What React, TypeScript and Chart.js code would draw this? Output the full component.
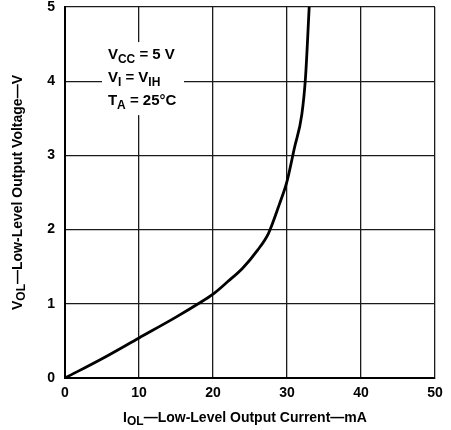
import React, { useEffect, useRef } from "react";
import { Chart, registerables } from "chart.js";

Chart.register(...registerables);

const currentMA = [0, 5, 10, 15, 18, 20, 22, 24, 26, 27.5, 29, 30, 31, 32, 32.5, 33];
const voltageV = [0, 0.26, 0.54, 0.82, 1.0, 1.13, 1.3, 1.48, 1.72, 1.95, 2.35, 2.65, 3.1, 3.55, 4.05, 5.0];

const X_MIN = 0;
const X_MAX = 50;
const X_STEP = 10;
const Y_MIN = 0;
const Y_MAX = 5;
const Y_STEP = 1;

type Part = { t: string; sub?: boolean };

const xTitle: Part[] = [{ t: "I" }, { t: "OL", sub: true }, { t: "\u2014Low-Level Output Current\u2014mA" }];
const yTitle: Part[] = [{ t: "V" }, { t: "OL", sub: true }, { t: "\u2014Low-Level Output Voltage\u2014V" }];
const noteLines: Part[][] = [
  [{ t: "V" }, { t: "CC", sub: true }, { t: " = 5 V" }],
  [{ t: "V" }, { t: "I", sub: true }, { t: " = V" }, { t: "IH", sub: true }],
  [{ t: "T" }, { t: "A", sub: true }, { t: " = 25\u00B0C" }],
];

const FAMILY = '"Liberation Sans", Arial, Helvetica, sans-serif';

function richWidth(ctx: CanvasRenderingContext2D, parts: Part[], size: number, subSize: number) {
  let w = 0;
  for (const p of parts) {
    ctx.font = `bold ${p.sub ? subSize : size}px ${FAMILY}`;
    w += ctx.measureText(p.t).width;
  }
  return w;
}

function drawRich(
  ctx: CanvasRenderingContext2D,
  parts: Part[],
  x: number,
  y: number,
  size: number,
  subSize: number,
  subShift: number
) {
  let cx = x;
  ctx.textBaseline = "alphabetic";
  ctx.textAlign = "left";
  for (const p of parts) {
    ctx.font = `bold ${p.sub ? subSize : size}px ${FAMILY}`;
    ctx.fillText(p.t, cx, p.sub ? y + subShift : y);
    cx += ctx.measureText(p.t).width;
  }
}

const textPlugin = {
  id: "textPlugin",
  beforeDatasetsDraw(chart: any) {
    const ctx: CanvasRenderingContext2D = chart.ctx;
    const xs = chart.scales.x;
    const ys = chart.scales.y;
    ctx.save();
    const bx = xs.getPixelForValue(5);
    const by = ys.getPixelForValue(4.5);
    ctx.fillStyle = "#ffffff";
    ctx.fillRect(bx, by - 2, 82, 73);
    ctx.fillStyle = "#000000";
    const lx = xs.getPixelForValue(5.8);
    const baseY = ys.getPixelForValue(4.3);
    noteLines.forEach((line, i) => {
      drawRich(ctx, line, lx, baseY + i * 23, 15, 12, 4);
    });
    ctx.restore();
  },
  afterDraw(chart: any) {
    const ctx: CanvasRenderingContext2D = chart.ctx;
    const area = chart.chartArea;
    ctx.save();
    ctx.fillStyle = "#000000";
    const xw = richWidth(ctx, xTitle, 14, 12);
    const xc = (area.left + area.right) / 2 - 5;
    drawRich(ctx, xTitle, xc - xw / 2, 422, 14, 12, 3);
    const yw = richWidth(ctx, yTitle, 14, 12);
    const yc = (area.top + area.bottom) / 2;
    ctx.translate(22, yc);
    ctx.rotate(-Math.PI / 2);
    drawRich(ctx, yTitle, -yw / 2, 0, 14, 12, 3);
    ctx.restore();
  },
};

export default function App() {
  const ref = useRef<HTMLCanvasElement | null>(null);
  useEffect(() => {
    if (!ref.current) return;
    const chart = new Chart(ref.current, {
      type: "line",
      data: {
        datasets: [
          {
            data: currentMA.map((x, i) => ({ x, y: voltageV[i] })),
            borderColor: "#000000",
            borderWidth: 2.8,
            pointRadius: 0,
            cubicInterpolationMode: "monotone",
            fill: false,
          },
        ],
      },
      options: {
        animation: false,
        responsive: false,
        maintainAspectRatio: false,
        layout: { padding: { top: 7, right: 16, left: 0, bottom: 0 } },
        plugins: { legend: { display: false }, tooltip: { enabled: false }, title: { display: false } },
        scales: {
          x: {
            type: "linear",
            min: X_MIN,
            max: X_MAX,
            ticks: {
              stepSize: X_STEP,
              color: "#000000",
              font: { family: FAMILY, size: 14, weight: "bold" },
              padding: 7,
            },
            grid: { color: "#1a1a1a", lineWidth: 1.3, drawTicks: false },
            border: { color: "#000000", width: 2 },
            afterFit: (s: any) => {
              s.height = 52;
              s.paddingLeft = 0;
              s.paddingRight = 0;
            },
          },
          y: {
            type: "linear",
            min: Y_MIN,
            max: Y_MAX,
            ticks: {
              stepSize: Y_STEP,
              color: "#000000",
              font: { family: FAMILY, size: 14, weight: "bold" },
              padding: 10,
            },
            grid: { color: "#1a1a1a", lineWidth: 1.3, drawTicks: false },
            border: { color: "#000000", width: 2 },
            afterFit: (s: any) => {
              s.width = 65;
              s.paddingTop = 0;
              s.paddingBottom = 0;
            },
          },
        },
      },
      plugins: [textPlugin],
    } as any);
    return () => chart.destroy();
  }, []);
  return (
    <div style={{ position: "fixed", left: 0, top: 0, width: 451, height: 430, background: "#fff" }}>
      <canvas ref={ref} width={451} height={430} style={{ display: "block" }} />
    </div>
  );
}
